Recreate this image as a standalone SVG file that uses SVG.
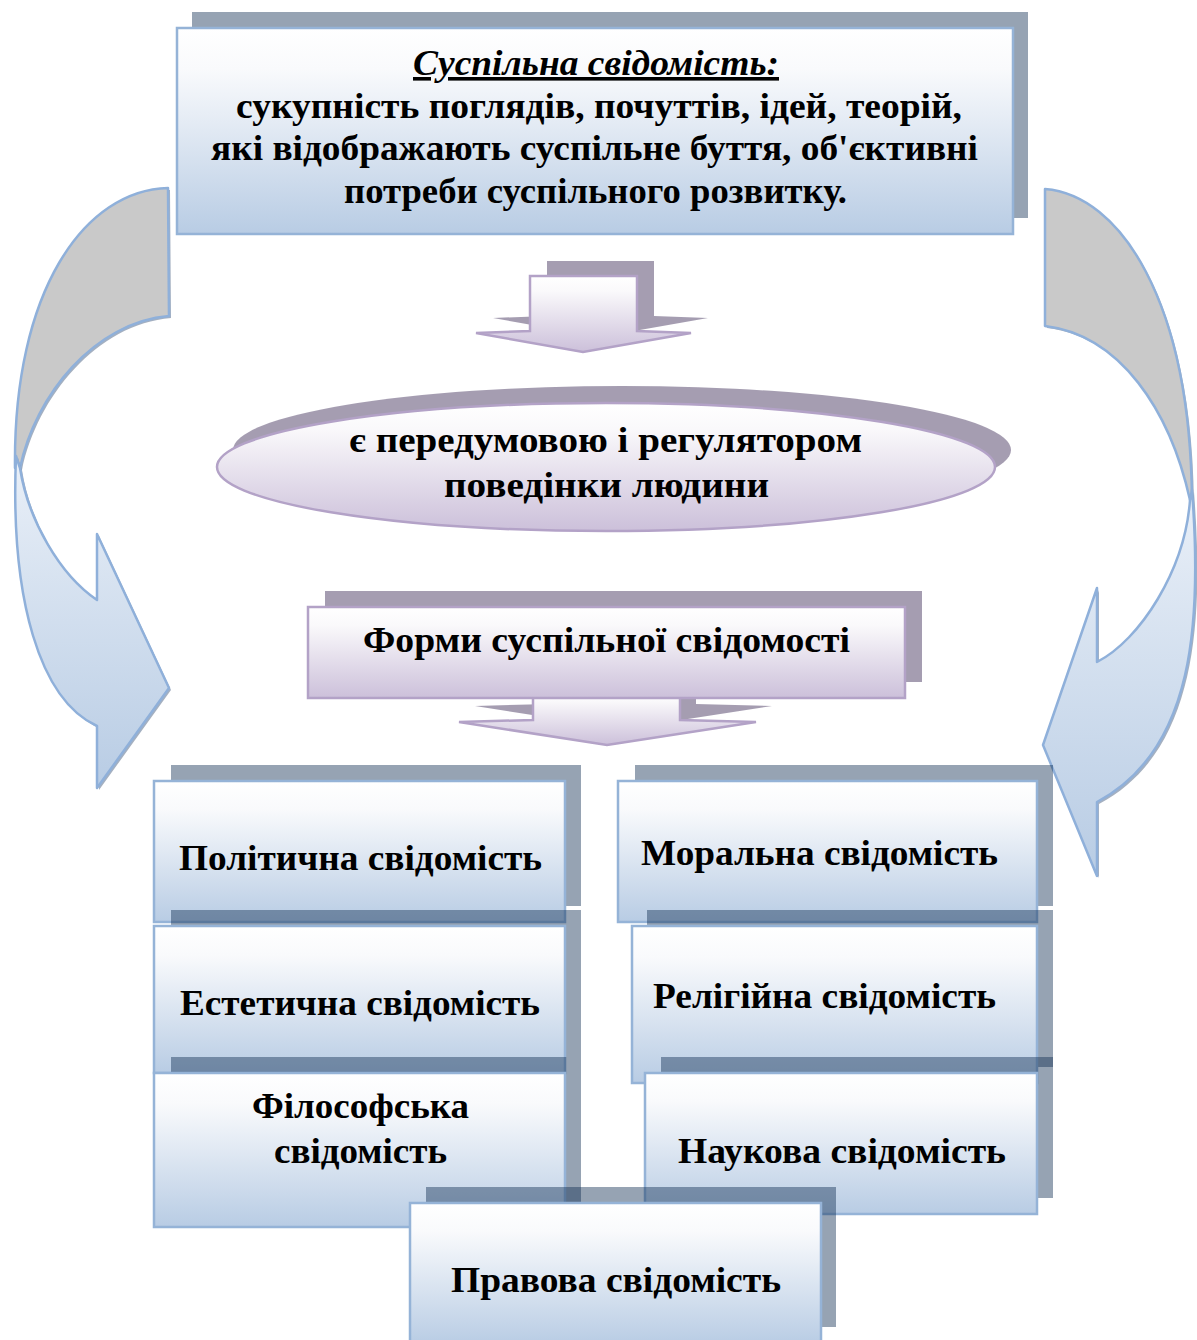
<svg xmlns="http://www.w3.org/2000/svg" width="1197" height="1340" viewBox="0 0 1197 1340">
<defs>
<linearGradient id="gBlue" x1="0" y1="0" x2="0" y2="1">
<stop offset="0" stop-color="#ffffff"/>
<stop offset="0.2" stop-color="#f9fafc"/>
<stop offset="1" stop-color="#b8cce4"/>
</linearGradient>
<linearGradient id="gPurple" x1="0" y1="0" x2="0" y2="1">
<stop offset="0" stop-color="#ffffff"/>
<stop offset="0.2" stop-color="#faf9fb"/>
<stop offset="1" stop-color="#ccc0da"/>
</linearGradient>
<linearGradient id="gArrow" x1="0" y1="0" x2="0" y2="1">
<stop offset="0" stop-color="#eaf0f8"/>
<stop offset="1" stop-color="#b8cce4"/>
</linearGradient>
<style>
.sh{fill:#102e52;fill-opacity:0.44}
.shp{fill:#3a2a55;fill-opacity:0.46}
.box{fill:url(#gBlue);stroke:#95b3d7;stroke-width:2.5}
.pbox{fill:url(#gPurple);stroke:#b3a2c7;stroke-width:2.5}
.back{fill:#c9c9c9;stroke:#8fb0da;stroke-width:2.5;stroke-linejoin:round}
.front{fill:url(#gArrow);stroke:#8fb0da;stroke-width:2.5;stroke-linejoin:round}
.ash{fill:#7d8ea6;fill-opacity:0.7}
.t{font-family:"Liberation Serif","Times New Roman",serif;font-weight:bold;font-size:36px;fill:#000;text-anchor:middle}
.ti{font-style:italic;text-decoration:underline}
</style>
</defs>

<g id="connectors">
  <!-- left curved arrow -->
  <g id="arrow-left">
    <path class="ash" transform="translate(2,2)" d="M168,188 C85,190 13,290 15,468 L20,468 C35,395 95,322 169,316 Z"/>
    <path class="back" d="M168,188 C85,190 13,290 15,468 L20,468 C35,395 95,322 169,316 Z"/>
    <path class="ash" transform="translate(2,2)" d="M16,456 L20,468 C28,520 60,575 97,600 L97,534 L169,688 L97,788 L97,726 C40,700 10,600 16,456 Z"/>
    <path class="front" d="M16,456 L20,468 C28,520 60,575 97,600 L97,534 L169,688 L97,788 L97,726 C40,700 10,600 16,456 Z"/>
  </g>
  <!-- right curved arrow -->
  <g id="arrow-right">
    <path class="ash" transform="translate(2,2)" d="M1045,189 C1120,195 1190,300 1192,500 L1190,500 C1170,410 1120,335 1045,326 Z"/>
    <path class="back" d="M1045,189 C1120,195 1190,300 1192,500 L1190,500 C1170,410 1120,335 1045,326 Z"/>
    <path class="ash" transform="translate(2,2)" d="M1192,490 C1202,620 1195,750 1097,802 L1097,876 L1043,745 L1097,588 L1097,662 C1140,640 1185,570 1190,500 Z"/>
    <path class="front" d="M1192,490 C1202,620 1195,750 1097,802 L1097,876 L1043,745 L1097,588 L1097,662 C1140,640 1185,570 1190,500 Z"/>
  </g>
  <!-- down arrow 1 -->
  <g id="arrow-down-1">
    <path class="shp" d="M547,261 L654,261 L654,316 L708,318 L600,337 L493,318 L547,316 Z"/>
    <path class="pbox" d="M530,276 L637,276 L637,331 L691,333 L583,352 L476,333 L530,331 Z"/>
  </g>
  <!-- down arrow 2 -->
  <g id="arrow-down-2">
    <path class="shp" d="M549,682 L696,682 L696,704 L772,706 L623,729 L475,706 L549,704 Z"/>
    <path class="pbox" d="M533,690 L680,690 L680,720 L756,722 L607,745 L459,722 L533,720 Z"/>
  </g>
</g>

<g id="node-definition">
  <rect class="sh" x="192" y="12" width="836" height="206"/>
  <rect class="box" x="177" y="28" width="836" height="206"/>
  <text class="t ti" x="596" y="75" textLength="366" lengthAdjust="spacingAndGlyphs">Суспільна свідомість:</text>
  <text class="t" x="599" y="118" textLength="726" lengthAdjust="spacingAndGlyphs">сукупність поглядів, почуттів, ідей, теорій,</text>
  <text class="t" x="594.5" y="160" textLength="767" lengthAdjust="spacingAndGlyphs">які відображають суспільне буття, об'єктивні</text>
  <text class="t" x="595.5" y="203" textLength="503" lengthAdjust="spacingAndGlyphs">потреби суспільного розвитку.</text>
</g>

<g id="node-regulator">
  <ellipse class="shp" cx="622" cy="450" rx="389" ry="64"/>
  <ellipse class="pbox" cx="606" cy="467" rx="389" ry="64"/>
  <text class="t" x="605.5" y="452" textLength="513" lengthAdjust="spacingAndGlyphs">є передумовою і регулятором</text>
  <text class="t" x="606.5" y="497" textLength="325" lengthAdjust="spacingAndGlyphs">поведінки людини</text>
</g>

<g id="node-forms">
  <rect class="shp" x="325" y="591" width="597" height="91"/>
  <rect class="pbox" x="308" y="607" width="597" height="91"/>
  <text class="t" x="606.5" y="652" textLength="487" lengthAdjust="spacingAndGlyphs">Форми суспільної свідомості</text>
</g>

<g id="node-political">
  <rect class="sh" x="171" y="765" width="410" height="141"/>
  <rect class="box" x="154" y="781" width="411" height="141"/>
  <text class="t" x="360.5" y="870" textLength="363" lengthAdjust="spacingAndGlyphs">Політична свідомість</text>
</g>

<g id="node-aesthetic">
  <rect class="sh" x="171" y="910" width="410" height="147"/>
  <rect class="box" x="154" y="926" width="411" height="147"/>
  <text class="t" x="360" y="1015" textLength="360" lengthAdjust="spacingAndGlyphs">Естетична свідомість</text>
</g>

<g id="node-philosophical">
  <rect class="sh" x="171" y="1057" width="410" height="154"/>
  <rect class="box" x="154" y="1073" width="411" height="154"/>
  <text class="t" x="360.5" y="1118" textLength="217" lengthAdjust="spacingAndGlyphs">Філософська</text>
  <text class="t" x="360.5" y="1163" textLength="173" lengthAdjust="spacingAndGlyphs">свідомість</text>
</g>

<g id="node-moral">
  <rect class="sh" x="635" y="765" width="418" height="141"/>
  <rect class="box" x="618" y="781" width="419" height="141"/>
  <text class="t" x="819.5" y="865" textLength="357" lengthAdjust="spacingAndGlyphs">Моральна свідомість</text>
</g>

<g id="node-religious">
  <rect class="sh" x="647" y="910" width="406" height="157"/>
  <rect class="box" x="632" y="926" width="405" height="157"/>
  <text class="t" x="824.5" y="1008" textLength="343" lengthAdjust="spacingAndGlyphs">Релігійна свідомість</text>
</g>

<g id="node-scientific">
  <rect class="sh" x="661" y="1057" width="392" height="141"/>
  <rect class="box" x="645" y="1073" width="392" height="141"/>
  <text class="t" x="842" y="1163" textLength="328" lengthAdjust="spacingAndGlyphs">Наукова свідомість</text>
</g>

<g id="node-legal">
  <rect class="sh" x="426" y="1187" width="410" height="140"/>
  <rect class="box" x="410" y="1203" width="411" height="142"/>
  <text class="t" x="616" y="1292" textLength="330" lengthAdjust="spacingAndGlyphs">Правова свідомість</text>
</g>
</svg>
